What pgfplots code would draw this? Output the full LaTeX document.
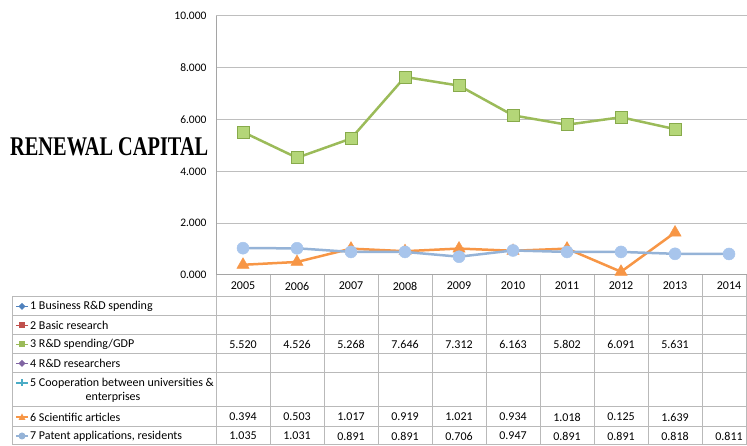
\documentclass[border=0pt]{standalone}
\usepackage{pgfplots}
\pgfplotsset{compat=1.18}
\usepackage{graphicx}
\usepackage{fontspec}
\setmainfont{Carlito}
\newfontfamily\titlefont{Liberation Serif}
\definecolor{gridgray}{RGB}{190,190,190}
\definecolor{axgray}{RGB}{165,165,165}
\definecolor{tabgray}{RGB}{185,185,185}
\definecolor{grnline}{RGB}{155,187,89}
\definecolor{grnfill}{RGB}{180,214,120}
\definecolor{grnedge}{RGB}{135,170,75}
\definecolor{orline}{RGB}{247,150,70}
\definecolor{blline}{RGB}{149,179,215}
\definecolor{blfill}{RGB}{168,197,236}
\definecolor{c1}{RGB}{79,129,189}
\definecolor{c2}{RGB}{192,80,77}
\definecolor{c4}{RGB}{128,100,162}
\definecolor{c5}{RGB}{75,172,198}
\begin{document}
\begin{tikzpicture}[x=1pt,y=1pt,font=\fontsize{12}{13}\selectfont]
\path[use as bounding box] (0,0) rectangle (747,446);
\begin{axis}[
  at={(216pt,171pt)}, anchor=south west,
  scale only axis, width=531pt, height=259pt,
  xmin=-0.5, xmax=9.333, ymin=0, ymax=10,
  clip=false,
  axis lines*=left,
  axis line style={-, draw=axgray, line width=1pt},
  xtick=\empty,
  ytick={0,2,4,6,8,10},
  ymajorgrids, grid style={draw=gridgray, line width=1pt},
  major tick length=0pt,
  yticklabel style={font=\fontsize{11.5}{13}\selectfont, xshift=-6pt,
    /pgf/number format/.cd, fixed, fixed zerofill, precision=3, assume math mode=true},
]
\addplot[grnline, line width=2.5pt, mark=square*, mark size=6pt,
  mark options={fill=grnfill, draw=grnedge, line width=0.8pt}]
  coordinates {(0,5.520)(1,4.526)(2,5.268)(3,7.646)(4,7.312)(5,6.163)(6,5.802)(7,6.091)(8,5.631)};
\addplot[orline, line width=2.5pt, mark=triangle*, mark size=7pt,
  mark options={fill=orline, draw=orline, line width=0.5pt}]
  coordinates {(0,0.394)(1,0.503)(2,1.017)(3,0.919)(4,1.021)(5,0.934)(6,1.018)(7,0.125)(8,1.639)};
\addplot[blline, line width=2.5pt, mark=*, mark size=6pt,
  mark options={fill=blfill, draw=blfill, line width=0.5pt}]
  coordinates {(0,1.035)(1,1.031)(2,0.891)(3,0.891)(4,0.706)(5,0.947)(6,0.891)(7,0.891)(8,0.818)(9,0.811)};
\end{axis}
% title
\node[anchor=west, inner sep=0pt] at (10,299)
  {\scalebox{0.754}[1]{\fontsize{27}{27}\selectfont\titlefont\bfseries RENEWAL CAPITAL}};
% table grid
\begin{scope}[draw=tabgray, line width=1pt]
\foreach \y in {149,130,111,92,73,39,19,1} {\draw (12,\y) -- (747,\y);}
\draw (12,1) -- (12,149);
\foreach \x in {216,270,324,378,432,486,540,594,648,702,746} {\draw (\x,1) -- (\x,171);}
\end{scope}
% years
\foreach \yr [count=\i from 0] in {2005,2006,2007,2008,2009,2010,2011,2012,2013,2014}
  {\node[inner sep=0pt] at (243+54*\i,160) {\yr};}
% values
\foreach \v [count=\i from 0] in {5.520,4.526,5.268,7.646,7.312,6.163,5.802,6.091,5.631}
  {\node[inner sep=0pt] at (243+54*\i,101.5) {\v};}
\foreach \v [count=\i from 0] in {0.394,0.503,1.017,0.919,1.021,0.934,1.018,0.125,1.639}
  {\node[inner sep=0pt] at (243+54*\i,29) {\v};}
\foreach \v [count=\i from 0] in {1.035,1.031,0.891,0.891,0.706,0.947,0.891,0.891,0.818,0.811}
  {\node[inner sep=0pt] at (243+54*\i,10) {\v};}
% legend column
\draw[c1, line width=1.6pt] (16,139.5) -- (28,139.5);
\fill[c1] (22,143) -- (25.5,139.5) -- (22,136) -- (18.5,139.5) -- cycle;
\node[anchor=west, inner sep=0pt] at (30,139.5) {1 Business R\&D spending};
\draw[c2, line width=1.6pt] (16,120.5) -- (28,120.5);
\fill[c2] (19,117.5) rectangle (25,123.5);
\node[anchor=west, inner sep=0pt] at (30,120.5) {2 Basic research};
\draw[grnline, line width=1.6pt] (16,101.5) -- (28,101.5);
\fill[grnline] (19,98.5) rectangle (25,104.5);
\node[anchor=west, inner sep=0pt] at (30,101.5) {3 R\&D spending/GDP};
\draw[c4, line width=1.6pt] (16,82.5) -- (28,82.5);
\fill[c4] (22,86) -- (25.5,82.5) -- (22,79) -- (18.5,82.5) -- cycle;
\node[anchor=west, inner sep=0pt] at (30,82.5) {4 R\&D researchers};
\draw[c5, line width=1.6pt] (16,63) -- (28,63);
\draw[c5, line width=1.2pt] (22,66.5) -- (22,59.5) (18.5,63) -- (25.5,63);
\node[anchor=west, inner sep=0pt] at (30,63) {5 Cooperation between universities \&};
\node[inner sep=0pt] at (113,49) {enterprises};
\draw[orline, line width=1.6pt] (16,29) -- (28,29);
\fill[orline] (18.5,26) -- (25.5,26) -- (22,32.5) -- cycle;
\node[anchor=west, inner sep=0pt] at (30,29) {6 Scientific articles};
\draw[blline, line width=1.6pt] (16,10) -- (28,10);
\fill[blline] (22,10) circle (3.5);
\node[anchor=west, inner sep=0pt] at (30,10) {7 Patent applications, residents};
\end{tikzpicture}
\end{document}
